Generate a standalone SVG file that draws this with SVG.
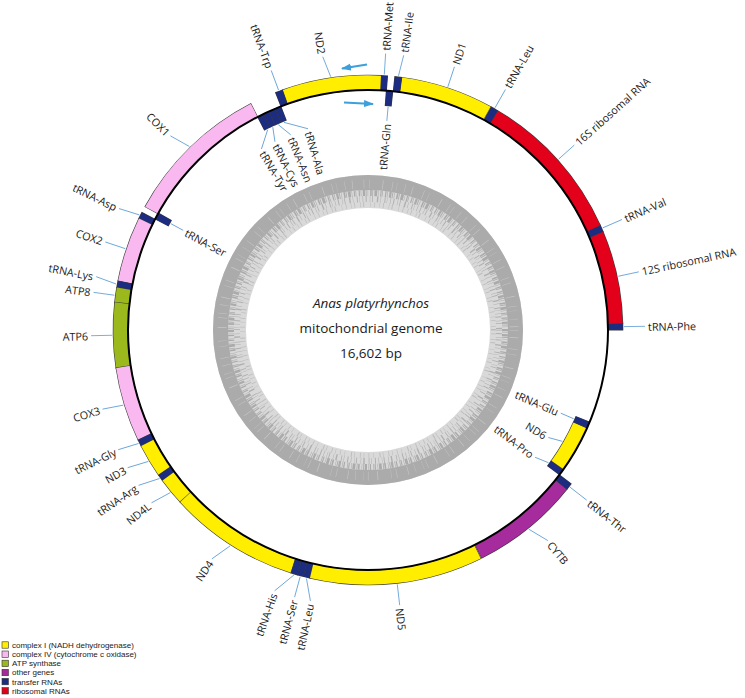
<svg xmlns="http://www.w3.org/2000/svg" width="745" height="698" viewBox="0 0 745 698">
<style>
.e{fill:none;stroke:#3a3a3a;stroke-width:15.6}
.f{fill:none;stroke-width:14.4}
.y{stroke:#FFEE00}.p{stroke:#F9B9F0}.g{stroke:#9BB81C}.v{stroke:#A62B9C}.n{stroke:#1C2C80}.r{stroke:#E3001B}
.t{font-family:"Open Sans","Liberation Sans",sans-serif;font-size:10.8px;fill:#1a1a1a;dominant-baseline:central}
.s{text-anchor:start}.en{text-anchor:end}
.ld{stroke:#5b9bd5;stroke-width:0.8;fill:none}
.c{font-family:"Open Sans","Liberation Sans",sans-serif;font-size:13.5px;fill:#1a1a1a;text-anchor:middle}
.lg{font-family:"Liberation Sans","Open Sans",sans-serif;font-size:8px;fill:#1a1a1a}
.sw{stroke:#333;stroke-width:0.6}
</style>
<defs>
<marker id="ah" markerWidth="10" markerHeight="8" refX="9" refY="4" orient="auto" markerUnits="userSpaceOnUse"><path d="M0,0.5 L10,4 L0,7.5 z" fill="#3d9fdb"/></marker>
</defs>
<rect width="745" height="698" fill="#fff"/>
<g transform="translate(368 330)">
<g id="gc-content">
<circle r="138.5" fill="none" stroke="#d9d9d9" stroke-width="33"/>
<circle r="147.5" fill="none" stroke="#ababab" stroke-width="15"/>
<circle r="146" fill="none" stroke="#c6c6c6" stroke-width="9" stroke-dasharray="0.4 7 0.6 11 0.5 5 0.4 13 0.7 9 0.5 4 0.3 8"/>
<circle r="137" fill="none" stroke="#ababab" stroke-width="6" stroke-dasharray="1.2 0.8 0.6 1.5 2.2 0.7 0.9 1.1 0.5 2 1.6 0.6 0.8 1.3 2.8 0.9 0.5 1.7 1.1 0.6 0.7 2.4"/>
<circle r="131" fill="none" stroke="#b0b0b0" stroke-width="6" stroke-dasharray="0.6 2.5 1 3.2 0.5 1.8 0.8 4 1.4 2.2 0.5 3.6 0.9 1.5 0.4 2.9"/>
<circle r="125.5" fill="none" stroke="#bdbdbd" stroke-width="5" stroke-dasharray="0.5 3 0.8 5 0.6 2.4 1 6 0.5 3.8 0.7 4.4"/>
</g>
<g id="g-trna-phe"><circle class="e" r="247.5" transform="rotate(-1.638)" stroke-dasharray="7.557 3000"/><circle class="f n" r="247.5" transform="rotate(-1.518)" stroke-dasharray="6.557 3000"/><text class="t s" transform="rotate(-0.76)" x="280">tRNA-Phe</text></g>
<g id="g-12s"><circle class="e" r="247.5" transform="rotate(-22.823)" stroke-dasharray="92.515 3000"/><circle class="f r" r="247.5" transform="rotate(-22.703)" stroke-dasharray="91.515 3000"/><text class="t s" transform="rotate(-12.12)" x="280">12S ribosomal RNA</text></g>
<g id="g-trna-val"><circle class="e" r="247.5" transform="rotate(-24.406)" stroke-dasharray="7.838 3000"/><circle class="f n" r="247.5" transform="rotate(-24.286)" stroke-dasharray="6.838 3000"/><text class="t s" transform="rotate(-23.51)" x="280">tRNA-Val</text></g>
<g id="g-16s"><circle class="e" r="247.5" transform="rotate(-59.556)" stroke-dasharray="152.837 3000"/><circle class="f r" r="247.5" transform="rotate(-59.436)" stroke-dasharray="151.837 3000"/><text class="t s" transform="rotate(-41.87)" x="280">16S ribosomal RNA</text></g>
<g id="g-trna-leu1"><circle class="e" r="247.5" transform="rotate(-61.161)" stroke-dasharray="7.932 3000"/><circle class="f n" r="247.5" transform="rotate(-61.041)" stroke-dasharray="6.932 3000"/><text class="t s" transform="rotate(-60.25)" x="280">tRNA-Leu</text></g>
<g id="g-nd1"><circle class="e" r="247.5" transform="rotate(-82.498)" stroke-dasharray="92.327 3000"/><circle class="f y" r="247.5" transform="rotate(-82.378)" stroke-dasharray="91.327 3000"/><text class="t s" transform="rotate(-71.82)" x="280">ND1</text></g>
<g id="g-trna-ile"><circle class="e" r="247.5" transform="rotate(-84.059)" stroke-dasharray="7.744 3000"/><circle class="f n" r="247.5" transform="rotate(-83.939)" stroke-dasharray="6.744 3000"/><text class="t s" transform="rotate(-82.6)" x="280">tRNA-Ile</text></g>
<g id="g-trna-gln"><circle class="e" r="232.5" transform="rotate(-85.729)" stroke-dasharray="7.247 3000"/><circle class="f n" r="232.5" transform="rotate(-85.609)" stroke-dasharray="6.247 3000"/><text class="t en" transform="rotate(-84.85)" x="207">tRNA-Gln</text></g>
<g id="g-trna-met"><circle class="e" r="247.5" transform="rotate(-87.203)" stroke-dasharray="7.463 3000"/><circle class="f n" r="247.5" transform="rotate(-87.083)" stroke-dasharray="6.463 3000"/><text class="t s" transform="rotate(-86.35)" x="280">tRNA-Met</text></g>
<g id="g-nd2"><circle class="e" r="247.5" transform="rotate(-109.777)" stroke-dasharray="98.509 3000"/><circle class="f y" r="247.5" transform="rotate(-109.657)" stroke-dasharray="97.509 3000"/><text class="t en" transform="rotate(80.6)" x="-280">ND2</text></g>
<g id="g-trna-trp"><circle class="e" r="247.5" transform="rotate(-111.381)" stroke-dasharray="8.119 3000"/><circle class="f n" r="247.5" transform="rotate(-111.261)" stroke-dasharray="7.119 3000"/><text class="t en" transform="rotate(69.55)" x="-280">tRNA-Trp</text></g>
<g id="g-trna-ala"><circle class="e" r="232.5" transform="rotate(-112.899)" stroke-dasharray="7.071 3000"/><circle class="f n" r="232.5" transform="rotate(-112.779)" stroke-dasharray="6.071 3000"/><text class="t s" transform="rotate(73.4)" x="-207">tRNA-Ala</text></g>
<g id="g-trna-asn"><circle class="e" r="232.5" transform="rotate(-114.504)" stroke-dasharray="7.423 3000"/><circle class="f n" r="232.5" transform="rotate(-114.384)" stroke-dasharray="6.423 3000"/><text class="t s" transform="rotate(68.4)" x="-207">tRNA-Asn</text></g>
<g id="g-trna-cys"><circle class="e" r="232.5" transform="rotate(-115.978)" stroke-dasharray="6.807 3000"/><circle class="f n" r="232.5" transform="rotate(-115.858)" stroke-dasharray="5.807 3000"/><text class="t s" transform="rotate(63.7)" x="-207">tRNA-Cys</text></g>
<g id="g-trna-tyr"><circle class="e" r="232.5" transform="rotate(-117.496)" stroke-dasharray="7.247 3000"/><circle class="f n" r="232.5" transform="rotate(-117.376)" stroke-dasharray="6.247 3000"/><text class="t s" transform="rotate(59.5)" x="-207">tRNA-Tyr</text></g>
<g id="g-cox1"><circle class="e" r="247.5" transform="rotate(-151.150)" stroke-dasharray="146.281 3000"/><circle class="f p" r="247.5" transform="rotate(-151.030)" stroke-dasharray="145.281 3000"/><text class="t en" transform="rotate(44.5)" x="-280">COX1</text></g>
<g id="g-trna-ser1"><circle class="e" r="232.5" transform="rotate(-152.581)" stroke-dasharray="7.599 3000"/><circle class="f n" r="232.5" transform="rotate(-152.461)" stroke-dasharray="6.599 3000"/><text class="t s" transform="rotate(28.34)" x="-207">tRNA-Ser</text></g>
<g id="g-trna-asp"><circle class="e" r="247.5" transform="rotate(-154.142)" stroke-dasharray="7.463 3000"/><circle class="f n" r="247.5" transform="rotate(-154.022)" stroke-dasharray="6.463 3000"/><text class="t en" transform="rotate(26.0)" x="-280">tRNA-Asp</text></g>
<g id="g-cox2"><circle class="e" r="247.5" transform="rotate(-168.996)" stroke-dasharray="65.070 3000"/><circle class="f p" r="247.5" transform="rotate(-168.876)" stroke-dasharray="64.070 3000"/><text class="t en" transform="rotate(18.53)" x="-280">COX2</text></g>
<g id="g-trna-lys"><circle class="e" r="247.5" transform="rotate(-170.492)" stroke-dasharray="7.369 3000"/><circle class="f n" r="247.5" transform="rotate(-170.372)" stroke-dasharray="6.369 3000"/><text class="t en" transform="rotate(11.1)" x="-280">tRNA-Lys</text></g>
<g id="g-atp8"><circle class="e" r="247.5" transform="rotate(-174.092)" stroke-dasharray="16.455 3000"/><circle class="f g" r="247.5" transform="rotate(-173.972)" stroke-dasharray="15.455 3000"/><text class="t en" transform="rotate(7.81)" x="-280">ATP8</text></g>
<g id="g-atp6"><circle class="e" r="247.5" transform="rotate(-188.707)" stroke-dasharray="65.070 3000"/><circle class="f g" r="247.5" transform="rotate(-188.587)" stroke-dasharray="64.070 3000"/><text class="t en" transform="rotate(-1.18)" x="-280">ATP6</text></g>
<g id="g-cox3"><circle class="e" r="247.5" transform="rotate(-205.685)" stroke-dasharray="74.437 3000"/><circle class="f p" r="247.5" transform="rotate(-205.565)" stroke-dasharray="73.437 3000"/><text class="t en" transform="rotate(-16.6)" x="-280">COX3</text></g>
<g id="g-trna-gly"><circle class="e" r="247.5" transform="rotate(-207.182)" stroke-dasharray="7.463 3000"/><circle class="f n" r="247.5" transform="rotate(-207.062)" stroke-dasharray="6.463 3000"/><text class="t en" transform="rotate(-25.6)" x="-280">tRNA-Gly</text></g>
<g id="g-nd3"><circle class="e" r="247.5" transform="rotate(-214.814)" stroke-dasharray="33.971 3000"/><circle class="f y" r="247.5" transform="rotate(-214.694)" stroke-dasharray="32.971 3000"/><text class="t en" transform="rotate(-29.8)" x="-280">ND3</text></g>
<g id="g-trna-arg"><circle class="e" r="247.5" transform="rotate(-216.332)" stroke-dasharray="7.463 3000"/><circle class="f n" r="247.5" transform="rotate(-216.212)" stroke-dasharray="6.463 3000"/><text class="t en" transform="rotate(-34.1)" x="-280">tRNA-Arg</text></g>
<g id="g-nd4l"><circle class="e" r="247.5" transform="rotate(-222.772)" stroke-dasharray="28.820 3000"/><circle class="f y" r="247.5" transform="rotate(-222.652)" stroke-dasharray="27.820 3000"/><text class="t en" transform="rotate(-38.6)" x="-280">ND4L</text></g>
<g id="g-nd4"><circle class="e" r="247.5" transform="rotate(-252.501)" stroke-dasharray="130.076 3000"/><circle class="f y" r="247.5" transform="rotate(-252.381)" stroke-dasharray="129.076 3000"/><text class="t en" transform="rotate(-55.7)" x="-280">ND4</text></g>
<g id="g-trna-his"><circle class="e" r="247.5" transform="rotate(-254.019)" stroke-dasharray="7.463 3000"/><circle class="f n" r="247.5" transform="rotate(-253.899)" stroke-dasharray="6.463 3000"/><text class="t en" transform="rotate(-70.3)" x="-280">tRNA-His</text></g>
<g id="g-trna-ser2"><circle class="e" r="247.5" transform="rotate(-255.450)" stroke-dasharray="7.182 3000"/><circle class="f n" r="247.5" transform="rotate(-255.330)" stroke-dasharray="6.182 3000"/><text class="t en" transform="rotate(-74.63)" x="-280">tRNA-Ser</text></g>
<g id="g-trna-leu2"><circle class="e" r="247.5" transform="rotate(-256.968)" stroke-dasharray="7.650 3000"/><circle class="f n" r="247.5" transform="rotate(-256.848)" stroke-dasharray="6.650 3000"/><text class="t en" transform="rotate(-78.0)" x="-280">tRNA-Leu</text></g>
<g id="g-nd5"><circle class="e" r="247.5" transform="rotate(-296.390)" stroke-dasharray="171.290 3000"/><circle class="f y" r="247.5" transform="rotate(-296.270)" stroke-dasharray="170.290 3000"/><text class="t s" transform="rotate(83.43)" x="280">ND5</text></g>
<g id="g-cytb"><circle class="e" r="247.5" transform="rotate(-321.413)" stroke-dasharray="108.064 3000"/><circle class="f v" r="247.5" transform="rotate(-321.293)" stroke-dasharray="107.064 3000"/><text class="t s" transform="rotate(49.5)" x="280">CYTB</text></g>
<g id="g-trna-thr"><circle class="e" r="247.5" transform="rotate(-322.975)" stroke-dasharray="7.463 3000"/><circle class="f n" r="247.5" transform="rotate(-322.855)" stroke-dasharray="6.463 3000"/><text class="t s" transform="rotate(37.88)" x="280">tRNA-Thr</text></g>
<g id="g-trna-pro"><circle class="e" r="232.5" transform="rotate(-324.536)" stroke-dasharray="7.159 3000"/><circle class="f n" r="232.5" transform="rotate(-324.416)" stroke-dasharray="6.159 3000"/><text class="t en" transform="rotate(37.3)" x="207">tRNA-Pro</text></g>
<g id="g-nd6"><circle class="e" r="232.5" transform="rotate(-335.963)" stroke-dasharray="46.932 3000"/><circle class="f y" r="232.5" transform="rotate(-335.843)" stroke-dasharray="45.932 3000"/><text class="t en" transform="rotate(30.8)" x="207">ND6</text></g>
<g id="g-trna-glu"><circle class="e" r="232.5" transform="rotate(-337.525)" stroke-dasharray="7.159 3000"/><circle class="f n" r="232.5" transform="rotate(-337.405)" stroke-dasharray="6.159 3000"/><text class="t en" transform="rotate(23.34)" x="207">tRNA-Glu</text></g>
<g id="backbone"><circle r="240" fill="none" stroke="#000" stroke-width="2"/></g>
<g id="connectors">
<line class="ld" transform="rotate(-0.76)" x1="256" y1="0" x2="277" y2="0"/>
<line class="ld" transform="rotate(-12.12)" x1="256" y1="0" x2="277" y2="0"/>
<line class="ld" transform="rotate(-23.51)" x1="256" y1="0" x2="277" y2="0"/>
<line class="ld" transform="rotate(-41.87)" x1="256" y1="0" x2="277" y2="0"/>
<line class="ld" transform="rotate(-60.25)" x1="256" y1="0" x2="277" y2="0"/>
<line class="ld" transform="rotate(-71.82)" x1="256" y1="0" x2="277" y2="0"/>
<line class="ld" transform="rotate(-82.6)" x1="256" y1="-2.5" x2="277" y2="0"/>
<line class="ld" transform="rotate(-86.35)" x1="256" y1="0" x2="277" y2="0"/>
<line class="ld" transform="rotate(37.88)" x1="256" y1="0" x2="277" y2="0"/>
<line class="ld" transform="rotate(49.5)" x1="255.9" y1="7.1" x2="277" y2="0"/>
<line class="ld" transform="rotate(83.43)" x1="256" y1="0" x2="277" y2="0"/>
<line class="ld" transform="rotate(-84.85)" x1="224" y1="0" x2="210" y2="0"/>
<line class="ld" transform="rotate(23.34)" x1="224" y1="0" x2="210" y2="0"/>
<line class="ld" transform="rotate(30.8)" x1="224" y1="-3.9" x2="210" y2="0"/>
<line class="ld" transform="rotate(37.3)" x1="224" y1="-3.8" x2="210" y2="0"/>
<line class="ld" transform="rotate(80.6)" x1="-256" y1="-4.56" x2="-277" y2="0"/>
<line class="ld" transform="rotate(69.55)" x1="-256" y1="0" x2="-277" y2="0"/>
<line class="ld" transform="rotate(44.5)" x1="-256" y1="-5.7" x2="-277" y2="0"/>
<line class="ld" transform="rotate(26.0)" x1="-256" y1="-3.2" x2="-277" y2="0"/>
<line class="ld" transform="rotate(18.53)" x1="-256" y1="0" x2="-277" y2="0"/>
<line class="ld" transform="rotate(11.1)" x1="-256" y1="3.35" x2="-277" y2="0"/>
<line class="ld" transform="rotate(7.81)" x1="-256" y1="0" x2="-277" y2="0"/>
<line class="ld" transform="rotate(-1.18)" x1="-256" y1="0" x2="-277" y2="0"/>
<line class="ld" transform="rotate(-16.6)" x1="-256" y1="2.1" x2="-277" y2="0"/>
<line class="ld" transform="rotate(-25.6)" x1="-256" y1="3.2" x2="-277" y2="0"/>
<line class="ld" transform="rotate(-29.8)" x1="-256" y1="4.9" x2="-277" y2="0"/>
<line class="ld" transform="rotate(-34.1)" x1="-255.9" y1="6.1" x2="-277" y2="0"/>
<line class="ld" transform="rotate(-38.6)" x1="-256" y1="3.75" x2="-277" y2="0"/>
<line class="ld" transform="rotate(-55.7)" x1="-255.9" y1="7.8" x2="-277" y2="0"/>
<line class="ld" transform="rotate(-70.3)" x1="-255.7" y1="12.8" x2="-277" y2="0"/>
<line class="ld" transform="rotate(-74.63)" x1="-256" y1="0" x2="-277" y2="0"/>
<line class="ld" transform="rotate(-78.0)" x1="-255.9" y1="-8.5" x2="-277" y2="0"/>
<line class="ld" transform="rotate(28.34)" x1="-224" y1="0" x2="-210" y2="0"/>
<line class="ld" transform="rotate(59.5)" x1="-223.5" y1="-15.2" x2="-210" y2="0"/>
<line class="ld" transform="rotate(63.7)" x1="-224" y1="-4.5" x2="-210" y2="0"/>
<line class="ld" transform="rotate(68.4)" x1="-223.9" y1="7.8" x2="-210" y2="0"/>
<line class="ld" transform="rotate(73.4)" x1="-223" y1="21.2" x2="-210" y2="0"/>
</g>
</g>
<g id="strand-arrows">
<line x1="367" y1="64.5" x2="342" y2="68.5" stroke="#3d9fdb" stroke-width="2" marker-end="url(#ah)"/>
<line x1="344" y1="102.5" x2="373" y2="104" stroke="#3d9fdb" stroke-width="2" marker-end="url(#ah)"/>
</g>
<g id="title">
<text class="c" x="371" y="308" font-style="italic">Anas platyrhynchos</text>
<text class="c" x="371" y="333">mitochondrial genome</text>
<text class="c" x="371" y="358">16,602 bp</text>
</g>
<g id="legend">
<rect class="sw" x="2" y="641.8" width="6.4" height="6.4" fill="#FFEE00"/><text class="lg" x="12" y="647.9">complex I (NADH dehydrogenase)</text>
<rect class="sw" x="2" y="651" width="6.4" height="6.4" fill="#F9B9F0"/><text class="lg" x="12" y="657.1">complex IV (cytochrome c oxidase)</text>
<rect class="sw" x="2" y="660.2" width="6.4" height="6.4" fill="#9BB81C"/><text class="lg" x="12" y="666.3">ATP synthase</text>
<rect class="sw" x="2" y="669.3" width="6.4" height="6.4" fill="#A62B9C"/><text class="lg" x="12" y="675.4">other genes</text>
<rect class="sw" x="2" y="678.4" width="6.4" height="6.4" fill="#1C2C80"/><text class="lg" x="12" y="684.5">transfer RNAs</text>
<rect class="sw" x="2" y="687.6" width="6.4" height="6.4" fill="#E3001B"/><text class="lg" x="12" y="693.7">ribosomal RNAs</text>
</g>
</svg>
